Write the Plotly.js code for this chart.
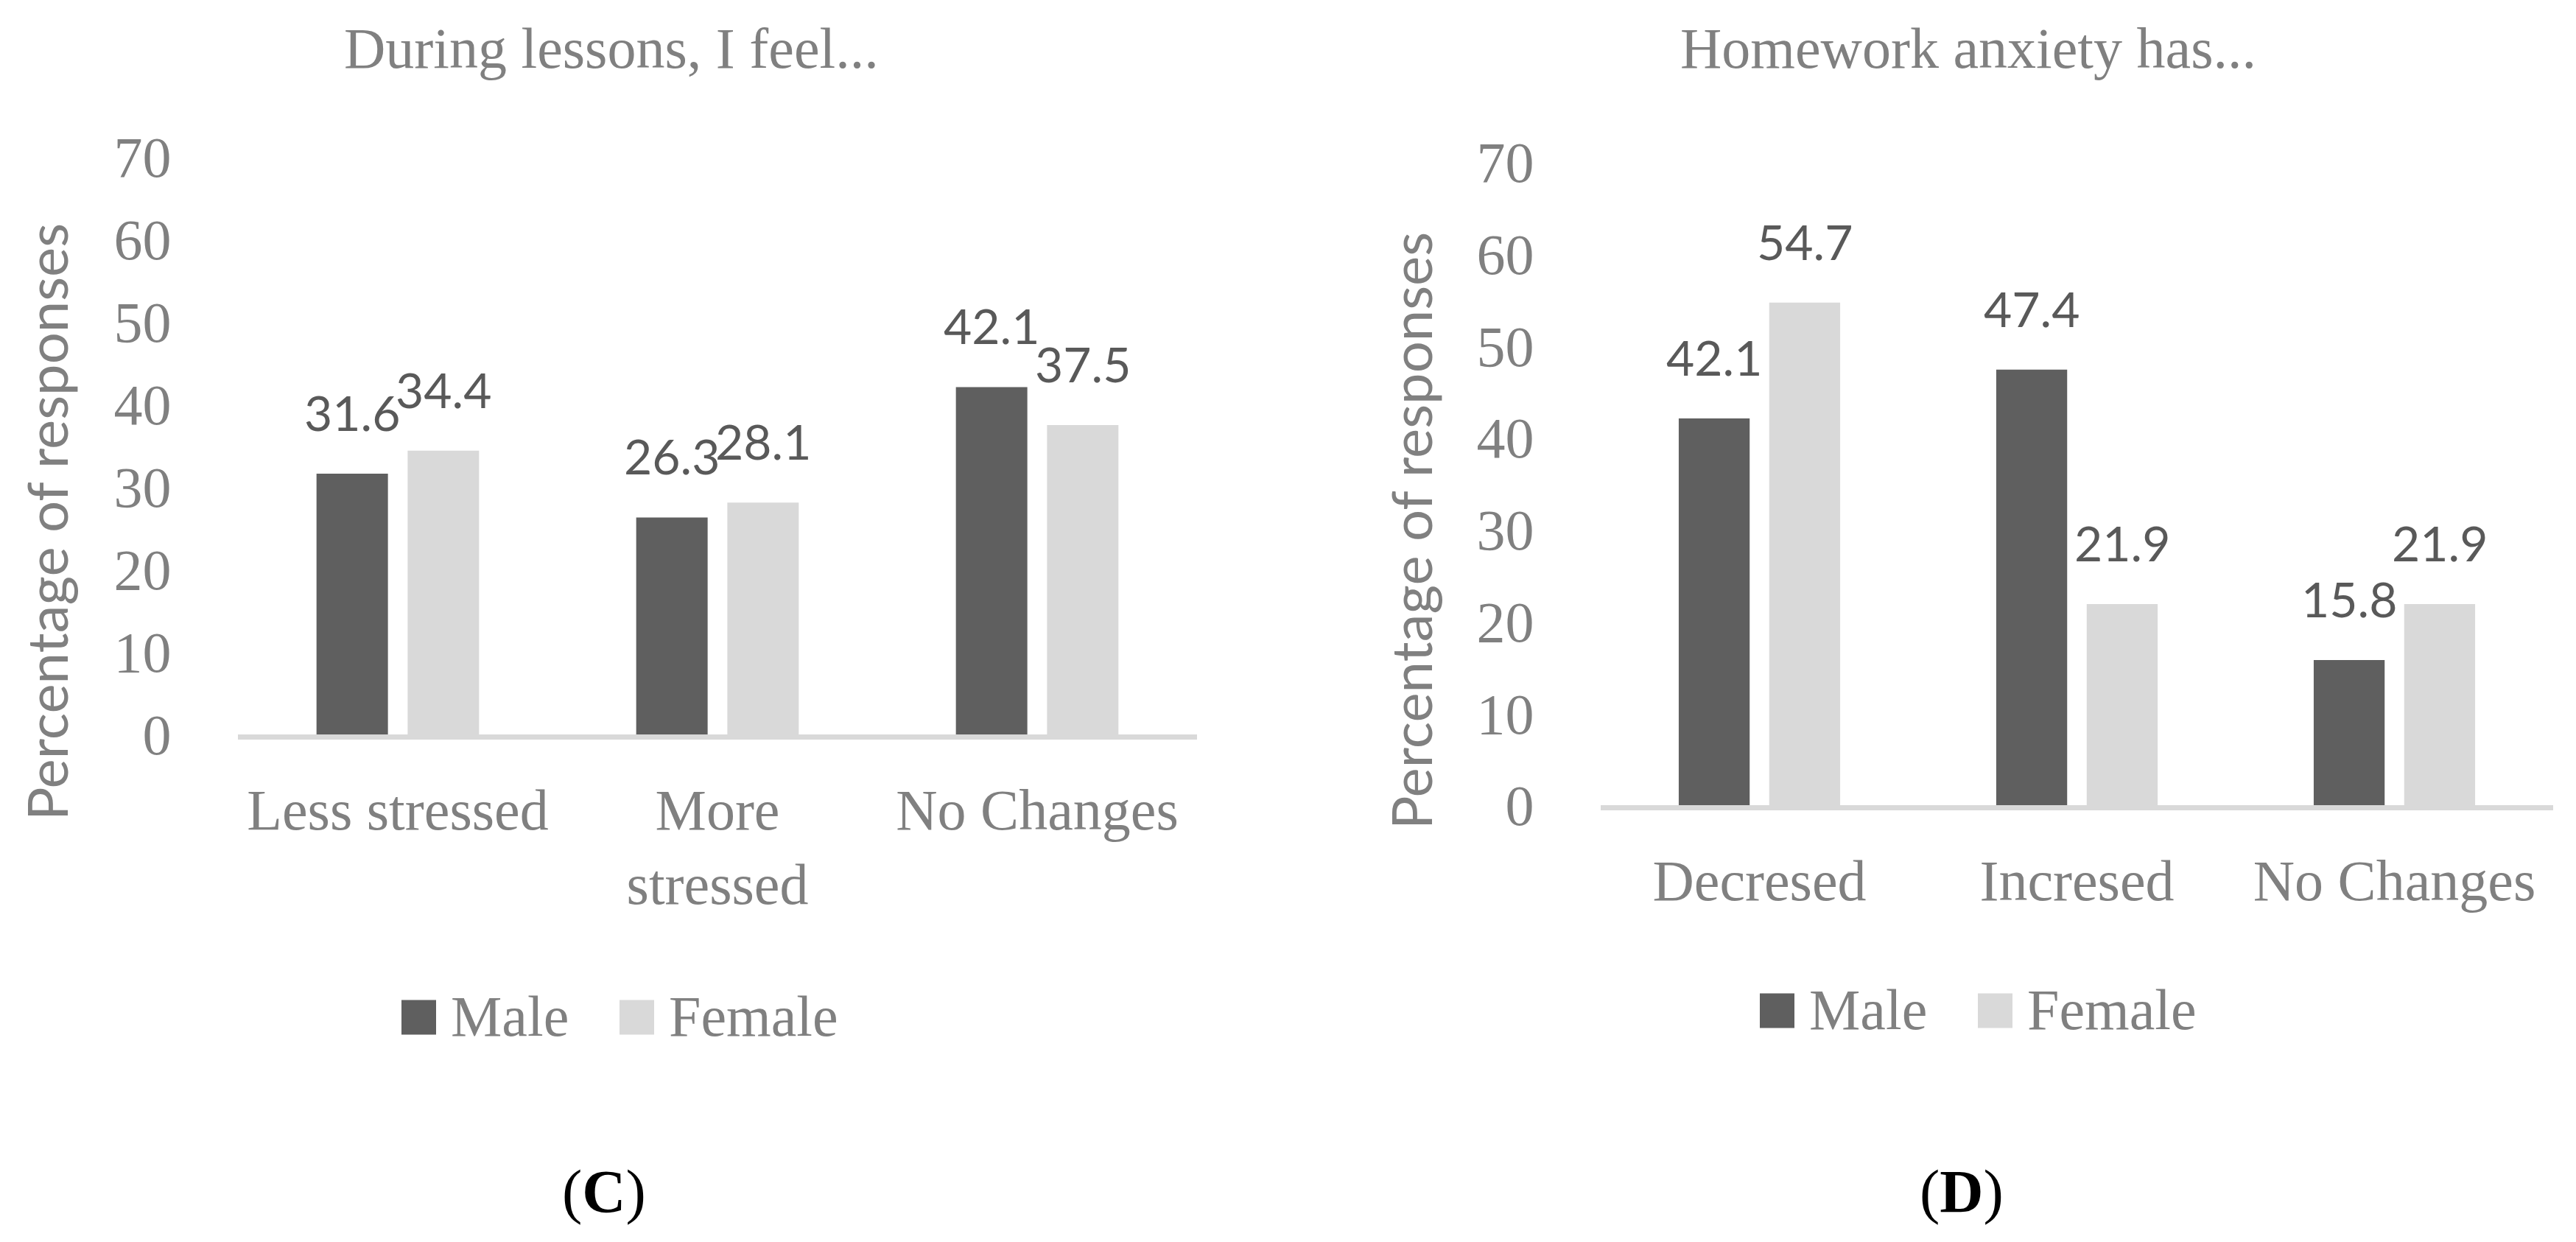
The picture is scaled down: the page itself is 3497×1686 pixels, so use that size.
<!DOCTYPE html>
<html>
<head>
<meta charset="utf-8">
<script src="https://cdn.plot.ly/plotly-3.0.1.min.js"></script>
<style>
  html, body { margin: 0; padding: 0; background: #ffffff; }
  #chart { width: 3497px; height: 1686px; }
</style>
</head>
<body>
<div id="chart"></div>
<script>
// ---------- data ----------
const seriesNames = ["Male", "Female"];

const lessonsTitle = "During lessons, I feel...";
const lessonsCategories = ["Less stressed", "More<br>stressed", "No Changes"];
const lessonsMale = [31.6, 26.3, 42.1];
const lessonsFemale = [34.4, 28.1, 37.5];

const homeworkTitle = "Homework anxiety has...";
const homeworkCategories = ["Decresed", "Incresed", "No Changes"];
const homeworkMale = [42.1, 47.4, 15.8];
const homeworkFemale = [54.7, 21.9, 21.9];

const yTitle = "Percentage of responses";
const yTickValues = [0, 10, 20, 30, 40, 50, 60, 70];
const panelLabels = ["(<b>C</b>)", "(<b>D</b>)"];

// ---------- style ----------
const W = 3497, H = 1686;
const px = x => x / W;
const py = y => 1 - y / H;

const colors = ["#5f5f5f", "#d9d9d9"];
const textGray = "#808080";
const labelGray = "#595959";
const serif = "Liberation Serif, Times New Roman, serif";
const sans = "Lato, Open Sans, sans-serif";
const BARGAP = 0.43, BARGROUPGAP = 0.216;
const groupOffset = (1 - BARGAP) / 4; // centre of each bar within its category

function barTrace(name, cats, vals, color, xa, ya) {
  return {
    type: "bar", name: name, x: cats, y: vals,
    xaxis: xa, yaxis: ya,
    marker: { color: color, line: { width: 0 } },
    showlegend: false, hoverinfo: "skip"
  };
}

const data = [
  barTrace(seriesNames[0], lessonsCategories, lessonsMale, colors[0], "x", "y"),
  barTrace(seriesNames[1], lessonsCategories, lessonsFemale, colors[1], "x", "y"),
  barTrace(seriesNames[0], homeworkCategories, homeworkMale, colors[0], "x2", "y2"),
  barTrace(seriesNames[1], homeworkCategories, homeworkFemale, colors[1], "x2", "y2")
];

function xAxis(domain, anchor) {
  return {
    domain: domain, anchor: anchor, type: "category",
    showline: true, linecolor: "#d9d9d9", linewidth: 7,
    ticks: "outside", ticklen: 28, tickcolor: "rgba(0,0,0,0)",
    tickfont: { family: serif, size: 78, color: textGray },
    showgrid: false, zeroline: false, fixedrange: true
  };
}
function yAxis(domain, anchor) {
  return {
    domain: domain, anchor: anchor, range: [0, 70],
    tickmode: "array", tickvals: yTickValues, ticktext: yTickValues.map(String),
    showline: false, showgrid: false, zeroline: false,
    ticks: "outside", ticklen: 74, tickcolor: "rgba(0,0,0,0)",
    tickfont: { family: serif, size: 78, color: textGray },
    fixedrange: true
  };
}

const annotations = [];
const shapes = [];

// data labels
function addLabels(vals, seriesIdx, xref, yref) {
  vals.forEach((v, i) => {
    annotations.push({
      xref: xref, yref: yref,
      x: i + (seriesIdx === 0 ? -groupOffset : groupOffset), y: v,
      text: v.toFixed(1), showarrow: false,
      xanchor: "center", yanchor: "bottom", yshift: 42,
      font: { family: sans, size: 66, color: labelGray }
    });
  });
}
addLabels(lessonsMale, 0, "x", "y");
addLabels(lessonsFemale, 1, "x", "y");
addLabels(homeworkMale, 0, "x2", "y2");
addLabels(homeworkFemale, 1, "x2", "y2");

// chart titles
annotations.push({ xref: "paper", yref: "paper", x: px(830), y: py(66), text: lessonsTitle,
  showarrow: false, xanchor: "center", yanchor: "middle", font: { family: serif, size: 78, color: textGray } });
annotations.push({ xref: "paper", yref: "paper", x: px(2672), y: py(66), text: homeworkTitle,
  showarrow: false, xanchor: "center", yanchor: "middle", font: { family: serif, size: 78, color: textGray } });

// y axis titles
annotations.push({ xref: "paper", yref: "paper", x: px(63), y: py(709), text: yTitle, textangle: -90,
  showarrow: false, xanchor: "center", yanchor: "middle", font: { family: sans, size: 76, color: textGray } });
annotations.push({ xref: "paper", yref: "paper", x: px(1915), y: py(720), text: yTitle, textangle: -90,
  showarrow: false, xanchor: "center", yanchor: "middle", font: { family: sans, size: 76, color: textGray } });

// legends
function addLegend(x0, yc) {
  const sq = 47, step = 296, gap = 19;
  seriesNames.forEach((n, i) => {
    const left = x0 + i * step;
    shapes.push({ type: "rect", xref: "paper", yref: "paper",
      x0: px(left), x1: px(left + sq), y0: py(yc + sq / 2), y1: py(yc - sq / 2),
      fillcolor: colors[i], line: { width: 0 } });
    annotations.push({ xref: "paper", yref: "paper", x: px(left + sq + gap - 1), y: py(yc - 2),
      text: n, showarrow: false, xanchor: "left", yanchor: "middle",
      font: { family: serif, size: 78, color: textGray } });
  });
}
addLegend(545, 1381);
addLegend(2389, 1372);

// panel labels
annotations.push({ xref: "paper", yref: "paper", x: px(820), y: py(1617), text: panelLabels[0],
  showarrow: false, xanchor: "center", yanchor: "middle", font: { family: serif, size: 82, color: "#000000" } });
annotations.push({ xref: "paper", yref: "paper", x: px(2663), y: py(1617), text: panelLabels[1],
  showarrow: false, xanchor: "center", yanchor: "middle", font: { family: serif, size: 82, color: "#000000" } });

const layout = {
  width: W, height: H,
  margin: { l: 0, r: 0, t: 0, b: 0, pad: 0 },
  paper_bgcolor: "#ffffff", plot_bgcolor: "#ffffff",
  barmode: "group", bargap: BARGAP, bargroupgap: BARGROUPGAP,
  showlegend: false,
  xaxis: xAxis([px(323), px(1625)], "y"),
  yaxis: yAxis([py(997), py(213)], "x"),
  xaxis2: xAxis([px(2173), px(3466)], "y2"),
  yaxis2: yAxis([py(1093), py(220)], "x2"),
  annotations: annotations,
  shapes: shapes
};

Plotly.newPlot("chart", data, layout, { displayModeBar: false, staticPlot: true });
</script>
</body>
</html>
